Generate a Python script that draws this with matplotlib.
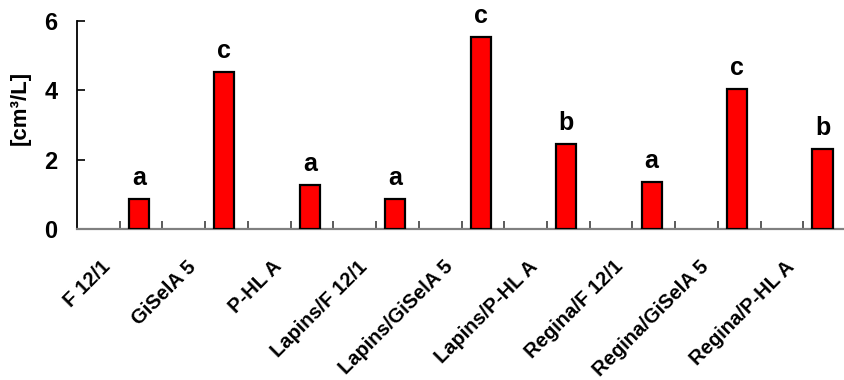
import matplotlib
matplotlib.use('Agg')
import matplotlib.pyplot as plt
import numpy as np

plt.rcParams['font.family'] = ['Liberation Sans', 'DejaVu Sans']
plt.rcParams['font.weight'] = 'bold'

categories = ['F 12/1', 'GiSelA 5', 'P-HL A', 'Lapins/F 12/1', 'Lapins/GiSelA 5',
              'Lapins/P-HL A', 'Regina/F 12/1', 'Regina/GiSelA 5', 'Regina/P-HL A']
values = [0.86, 4.53, 1.28, 0.86, 5.53, 2.45, 1.36, 4.03, 2.32]
letters = ['a', 'c', 'a', 'a', 'c', 'b', 'a', 'c', 'b']
yticks = [0, 2, 4, 6]

fig = plt.figure(figsize=(8.44, 3.80), dpi=100)
ax = fig.add_axes([77 / 844, 1 - 229 / 380, 769 / 844, 208 / 380])

idx = np.arange(len(categories))
bar_x = idx * 2 + 1.45
ax.bar(bar_x, values, width=0.47, color='#ff0000', edgecolor='black', linewidth=1.6, zorder=3)

for x, v, s in zip(bar_x, values, letters):
    ax.annotate(s, (x, v), xytext=(0, 10), textcoords='offset points',
                ha='center', va='baseline', fontsize=18, fontweight='bold')

ax.set_xlim(0, 18)
ax.set_ylim(0, 6)
ax.set_yticks(yticks)
ax.set_yticklabels([str(t) for t in yticks], fontsize=17, fontweight='bold')
ax.tick_params(axis='y', direction='in', length=6, width=1.2, pad=14)

# category labels sit between the tick marks
ax.set_xticks(idx * 2 + 0.72)
ax.set_xticklabels(categories, rotation=45, ha='right', va='center',
                   rotation_mode='anchor', fontsize=14.5, fontweight='bold')
ax.tick_params(axis='x', which='major', length=0, pad=25)
ax.set_xticks(np.arange(1, 18), minor=True)
ax.tick_params(axis='x', which='minor', direction='in', length=6, width=1.2, color='#404040')

ax.set_ylabel('[cm³/L]', fontsize=16, fontweight='bold')
ax.yaxis.set_label_coords(-0.06, 0.58)

ax.spines['top'].set_visible(False)
ax.spines['right'].set_visible(False)
ax.spines['left'].set_linewidth(1.3)
ax.spines['bottom'].set_color('#808080')
ax.spines['bottom'].set_linewidth(1.6)

fig.savefig('out.png', dpi=100)
